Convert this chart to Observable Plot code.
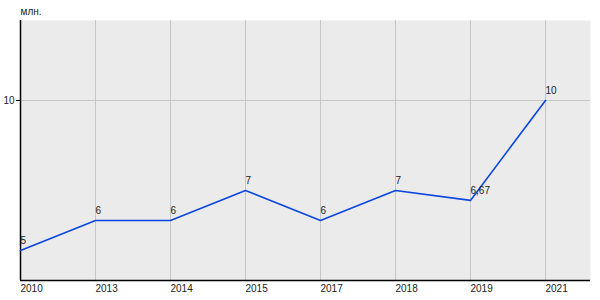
<!DOCTYPE html>
<html>
<head>
<meta charset="utf-8">
<script src="https://cdn.jsdelivr.net/npm/d3@7"></script>
<script src="https://cdn.jsdelivr.net/npm/@observablehq/plot@0.6"></script>
<style>
  html, body { margin: 0; padding: 0; background: #fff; }
  #chart svg { display: block; }
</style>
</head>
<body>
<div id="chart"></div>
<script>
const years = ["2010", "2013", "2014", "2015", "2017", "2018", "2019", "2021"];
const values = [5, 6, 6, 7, 6, 7, 6.67, 10];
const valueLabels = ["5", "6", "6", "7", "6", "7", "6,67", "10"];
const yTicks = [10];
const yUnit = "млн.";

const data = years.map((y, i) => ({year: y, value: values[i], label: valueLabels[i]}));

const chart = Plot.plot({
  width: 600,
  height: 300,
  marginLeft: 20,
  marginRight: 10,
  marginTop: 20,
  marginBottom: 20,
  style: {fontFamily: "'Liberation Sans', Arial, sans-serif", fontSize: "10px", color: "#222", background: "#fff"},
  x: {type: "point", domain: years, range: [20, 545], padding: 0},
  y: {domain: [4, 38 / 3]},
  marks: [
    Plot.frame({fill: "#ebebeb", stroke: null}),
    Plot.ruleX(years, {stroke: "#c6c6c6", strokeWidth: 1}),
    Plot.ruleY(yTicks, {stroke: "#c6c6c6", strokeWidth: 1}),
    Plot.ruleY([4], {stroke: "#000", strokeWidth: 1.5}),
    Plot.ruleX([years[0]], {stroke: "#000", strokeWidth: 1.5}),
    Plot.axisX({tickSize: 0, textAnchor: "start", tickPadding: 4, label: null, fill: "#222", fontSize: 10}),
    Plot.axisY({ticks: yTicks, tickSize: 4, tickPadding: 2, label: null, stroke: "#000", fill: "#222", fontSize: 10}),
    Plot.text([yUnit], {frameAnchor: "top-left", dy: -13, dx: 0, textAnchor: "start", fill: "#222", fontSize: 10}),
    Plot.line(data, {x: "year", y: "value", stroke: "#0a46e0", strokeWidth: 1.6}),
    Plot.text(data, {x: "year", y: "value", text: "label", textAnchor: "start", dy: -10, dx: 0, fill: "#222", fontSize: 10})
  ]
});
document.getElementById("chart").append(chart);
</script>
</body>
</html>
